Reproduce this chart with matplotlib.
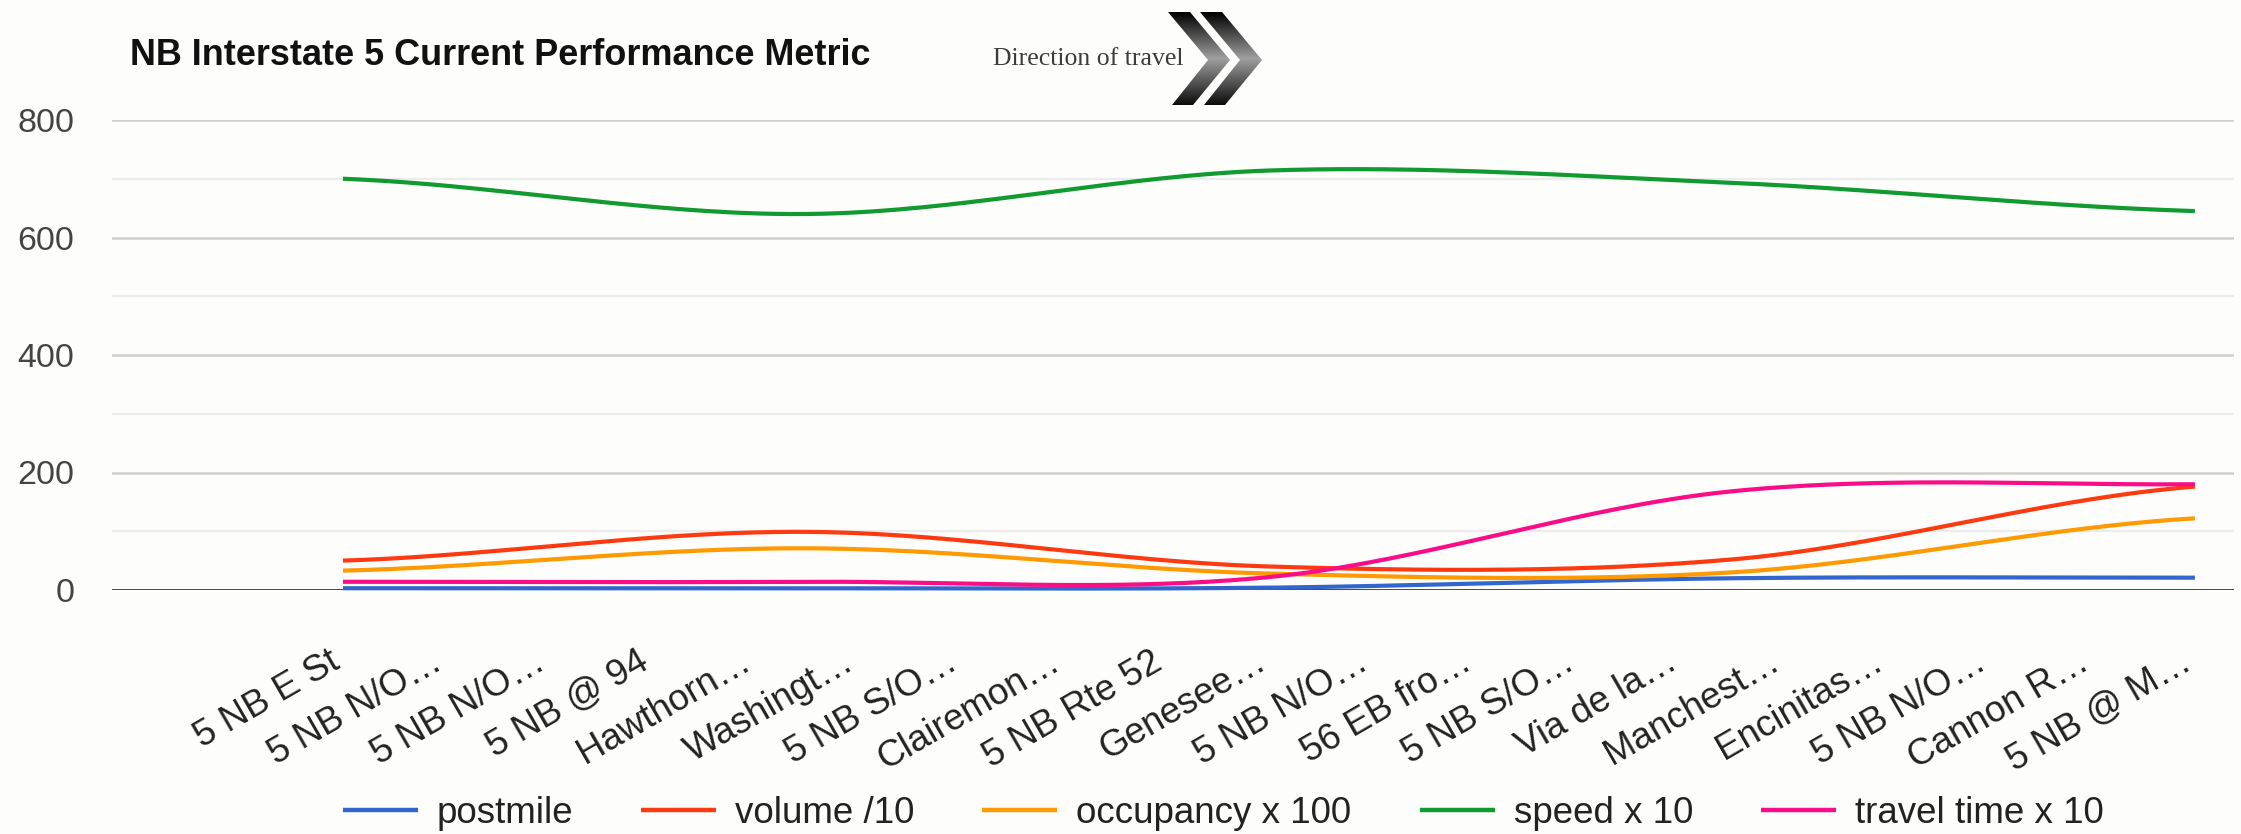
import numpy as np
import matplotlib
matplotlib.use("Agg")
import matplotlib.pyplot as plt
import matplotlib.transforms as mtransforms
from matplotlib.lines import Line2D
from matplotlib.patches import Polygon

# ---- data -------------------------------------------------------------
stations = ["5 NB E St", "5 NB N/O…", "5 NB N/O…", "5 NB @ 94", "Hawthorn…",
            "Washingt…", "5 NB S/O…", "Clairemon…", "5 NB Rte 52", "Genesee…",
            "5 NB N/O…", "56 EB fro…", "5 NB S/O…", "Via de la…", "Manchest…",
            "Encinitas…", "5 NB N/O…", "Cannon R…", "5 NB @ M…"]

series_names = ["postmile", "volume /10", "occupancy x 100", "speed x 10",
                "travel time x 10"]

# detector readings sampled evenly along the corridor
postmile = [3, 3, 4, 20, 21]
volume_div10 = [50, 99, 40, 52, 176]
occupancy_x100 = [33, 71, 28, 30, 122]
speed_x10 = [700, 640, 714, 693, 645]
travel_time_x10 = [14, 14, 22, 168, 180]

y_ticks = [0, 200, 400, 600, 800]

series_values = [postmile, volume_div10, occupancy_x100, speed_x10, travel_time_x10]
colors = ["#3366cc", "#ff3a10", "#ff9a00", "#109a30", "#fb0d88"]

plt.rcParams["font.family"] = ["Liberation Sans", "DejaVu Sans"]

W, H = 2241, 834
BG = "#fdfdfb"


def smooth(vals, steps=60):
    """Catmull-Rom curve through the readings (x in sample-index units)."""
    p = np.asarray(vals, dtype=float)
    n = len(p)
    m = np.empty(n)
    m[1:-1] = (p[2:] - p[:-2]) / 2.0
    m[0] = (p[1] - p[0]) / 2.0
    m[-1] = (p[-1] - p[-2]) / 2.0
    xs, ys = [], []
    for i in range(n - 1):
        t = np.linspace(0, 1, steps, endpoint=(i == n - 2))
        h00 = 2 * t**3 - 3 * t**2 + 1
        h10 = t**3 - 2 * t**2 + t
        h01 = -2 * t**3 + 3 * t**2
        h11 = t**3 - t**2
        ys.append(h00 * p[i] + h10 * m[i] + h01 * p[i + 1] + h11 * m[i + 1])
        xs.append(i + t)
    return np.concatenate(xs), np.concatenate(ys)


fig = plt.figure(figsize=(W / 100, H / 100), dpi=100, facecolor=BG)

ax_left, ax_right, ax_top, ax_bottom = 112, 2234, 120, 590
ax = fig.add_axes([ax_left / W, (H - ax_bottom) / H,
                   (ax_right - ax_left) / W, (ax_bottom - ax_top) / H])
ax.set_facecolor(BG)

n_cat = len(stations)
lo, hi = -2.245, (n_cat - 1) + 0.38
ax.set_xlim(lo, hi)
ax.set_ylim(0, 800)

for s in ax.spines.values():
    s.set_visible(False)

ax.set_yticks(y_ticks)
ax.set_yticks([100, 300, 500, 700], minor=True)
ax.yaxis.grid(True, which="major", color="#cfcfcf", lw=1.8)
ax.yaxis.grid(True, which="minor", color="#ececec", lw=1.6)
ax.set_axisbelow(True)
ax.tick_params(axis="y", which="both", length=0, pad=27, labelsize=24.5,
               labelcolor="#444444")
ax.axhline(0, color="#3c3c3c", lw=2.0, zorder=1.5)

ax.set_xticks(range(n_cat))
ax.set_xticklabels(stations, rotation=30, ha="right", va="top",
                   rotation_mode="anchor", fontsize=26.5, color="#222222")
ax.tick_params(axis="x", length=0, pad=39)
shift = mtransforms.ScaledTranslation(-0.15, 0, fig.dpi_scale_trans)
for lab in ax.get_xticklabels():
    lab.set_transform(lab.get_transform() + shift)

# readings axis: samples spread evenly over the station span
ax2 = ax.twiny()
n_samp = len(speed_x10)
k = (n_samp - 1) / (n_cat - 1)
ax2.set_xlim(lo * k, hi * k)
ax2.set_ylim(0, 800)
ax2.axis("off")

lines = []
for name, vals, c in zip(series_names, series_values, colors):
    xs, ys = smooth(vals)
    ln, = ax2.plot(xs, ys, color=c, lw=3.0, solid_capstyle="butt",
                   label=name, clip_on=False)
    lines.append(ln)

# ---- legend ----------------------------------------------------------
leg_x = [343, 641, 982, 1420, 1761]
leg_y = 810
for x0, ln in zip(leg_x, lines):
    fig.add_artist(Line2D([x0 / W, (x0 + 75) / W], [(H - leg_y) / H] * 2,
                          transform=fig.transFigure, color=ln.get_color(),
                          lw=3.2, solid_capstyle="butt"))
    fig.text((x0 + 94) / W, (H - 823) / H, ln.get_label(), fontsize=26.5,
             color="#222222", va="baseline", ha="left")

# ---- title -----------------------------------------------------------
fig.text(130 / W, (H - 65) / H, "NB Interstate 5 Current Performance Metric",
         fontsize=25.9, fontweight="bold", color="#111111", va="baseline")

# ---- direction of travel badge ---------------------------------------
ov = fig.add_axes([0, 0, 1, 1], zorder=5)
ov.set_xlim(0, W)
ov.set_ylim(H, 0)
ov.axis("off")
ov.patch.set_alpha(0)

ov.text(993, 65, "Direction of travel", family="Liberation Serif",
        fontsize=18.5, color="#3c3c3c", va="baseline", ha="left")

grad = np.concatenate([np.linspace(0.0, 0.62, 50), np.linspace(0.62, 0.05, 50)])
grad = np.tile(grad[:, None], (1, 10))
chev = [(0, 12), (22, 12), (62, 60), (25, 105), (4, 105), (40, 60)]
for dx in (1168, 1200):
    pts = [(dx + a, b) for a, b in chev]
    poly = Polygon(pts, closed=True, facecolor="none", edgecolor="none")
    ov.add_patch(poly)
    im = ov.imshow(grad, cmap="gray", vmin=0, vmax=1, aspect="auto",
                   extent=(dx, dx + 62, 105, 12), interpolation="bilinear")
    im.set_clip_path(poly)
ov.set_xlim(0, W)
ov.set_ylim(H, 0)

fig.savefig("out.png", dpi=100, facecolor=BG)
